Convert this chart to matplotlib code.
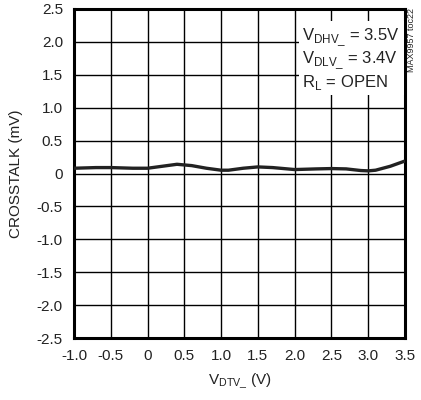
import numpy as np
import matplotlib.pyplot as plt

plt.rcParams['font.family'] = ['Liberation Sans', 'DejaVu Sans']
plt.rcParams['mathtext.fontset'] = 'custom'
plt.rcParams['mathtext.rm'] = 'Liberation Sans'

# data
vdtv = [-1.0, -0.7, -0.5, -0.2, 0.0, 0.2, 0.4, 0.6, 0.8, 1.0, 1.1, 1.3, 1.5, 1.7, 2.0, 2.3, 2.5, 2.7, 2.9, 3.0, 3.1, 3.3, 3.5]
crosstalk = [0.08, 0.09, 0.09, 0.08, 0.08, 0.11, 0.14, 0.12, 0.08, 0.05, 0.05, 0.08, 0.10, 0.09, 0.06, 0.07, 0.075, 0.07, 0.045, 0.04, 0.05, 0.11, 0.19]

xticks = np.arange(-1.0, 3.51, 0.5)
yticks = np.arange(-2.5, 2.51, 0.5)
xlabels = ['-1.0', '-0.5', '0', '0.5', '1.0', '1.5', '2.0', '2.5', '3.0', '3.5']
ylabels = ['-2.5', '-2.0', '-1.5', '-1.0', '-0.5', '0', '0.5', '1.0', '1.5', '2.0', '2.5']

fig = plt.figure(figsize=(4.21, 4.00), dpi=100)
ax = fig.add_axes([74 / 421, 62 / 400, 331 / 421, 329 / 400])

ax.plot(vdtv, crosstalk, color='#222222', lw=2.4, solid_capstyle='butt', zorder=3)

ax.set_xlim(-1.0, 3.5)
ax.set_ylim(-2.5, 2.5)
ax.set_xticks(xticks)
ax.set_xticklabels(xlabels)
ax.set_yticks(yticks)
ax.set_yticklabels(ylabels)
ax.tick_params(length=0, labelsize=11, pad=8, colors='#222222')
ax.grid(True, color='black', lw=1.0)
for s in ax.spines.values():
    s.set_linewidth(2.2)

ax.set_xlabel(r'V$_\mathregular{DTV\_}$ (V)', fontsize=11, labelpad=6, color='#222222')
ax.set_ylabel('CROSSTALK (mV)', fontsize=11, labelpad=10, color='#222222')

ax.text(0.69, 0.945,
        'V$_\\mathregular{DHV\\_}$ = 3.5V\nV$_\\mathregular{DLV\\_}$ = 3.4V\nR$_\\mathregular{L}$ = OPEN',
        transform=ax.transAxes, ha='left', va='top', fontsize=12, linespacing=1.05,
        color='#222222', multialignment='left',
        bbox=dict(facecolor='white', edgecolor='none', pad=2.5), zorder=4)

fig.text(412 / 421, 1 - 40 / 400, 'MAX9957 toc22', rotation=90, ha='center', va='center',
         fontsize=6.5, color='#222222')

fig.savefig('out.png', dpi=100)
